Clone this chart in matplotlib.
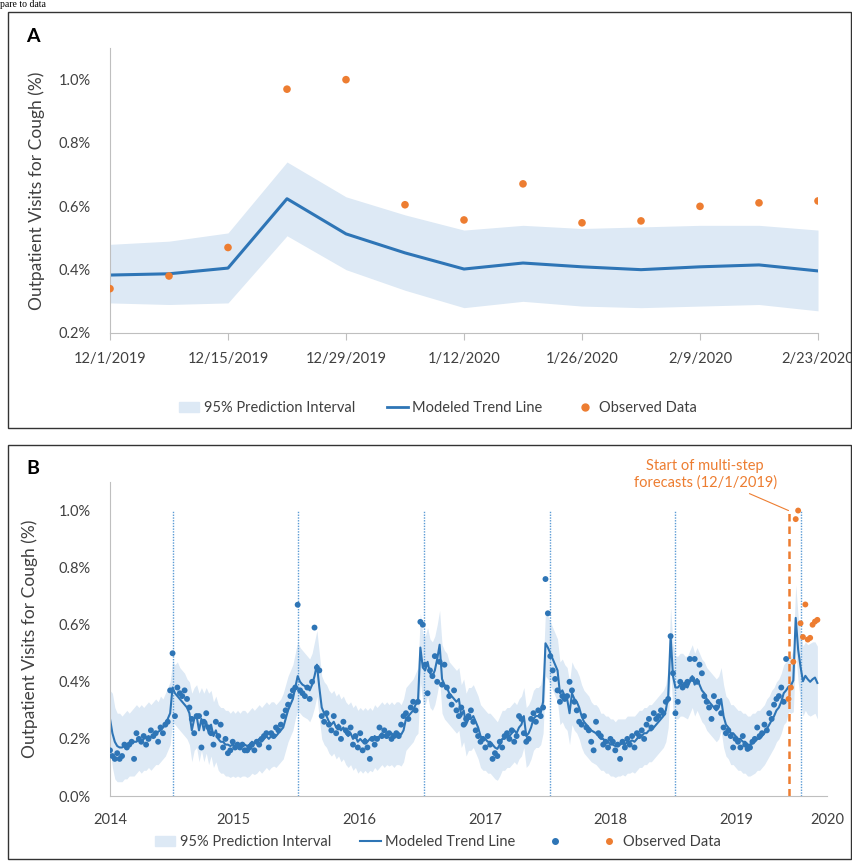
import numpy as np
import pandas as pd
import matplotlib
matplotlib.use("Agg")
import matplotlib.pyplot as plt
from matplotlib.patches import Patch, Rectangle
from matplotlib.lines import Line2D

plt.rcParams['font.family'] = ['Lato', 'DejaVu Sans']

BLUE = '#2E75B6'
ORANGE = '#ED7D31'
BAND = '#DDE9F5'
DOT_LINE = '#5B9BD5'
AXIS_GRAY = '#BFBFBF'
TEXT = '#404040'

# ---- Panel A: multi-step forecasts, weekly from 12/1/2019 ----
a_start = '2019-12-01'
a_observed = [0.34, 0.38, 0.47, 0.97, 1.00, 0.605, 0.557, 0.671, 0.548, 0.554, 0.60, 0.611, 0.617]
a_trend = [0.383, 0.387, 0.405, 0.624, 0.513, 0.453, 0.402, 0.421, 0.409, 0.40, 0.409, 0.415, 0.396]
a_upper = [0.48, 0.49, 0.516, 0.74, 0.63, 0.573, 0.525, 0.54, 0.53, 0.535, 0.54, 0.54, 0.525]
a_lower = [0.295, 0.29, 0.295, 0.507, 0.40, 0.335, 0.28, 0.30, 0.285, 0.28, 0.285, 0.29, 0.27]
a_tick_labels = ['12/1/2019', '12/15/2019', '12/29/2019', '1/12/2020', '1/26/2020', '2/9/2020', '2/23/2020']

# ---- Panel B: weekly history from 7/6/2014 (one-step model) ----
b_start = '2014-07-06'
b_trend_hist = [
    0.27, 0.22, 0.19, 0.175, 0.17, 0.17, 0.175, 0.18, 0.18, 0.185,
    0.19, 0.19, 0.20, 0.19, 0.20, 0.205, 0.21, 0.205, 0.215, 0.22,
    0.225, 0.23, 0.24, 0.25, 0.27, 0.29, 0.38, 0.36, 0.35, 0.34,
    0.33, 0.32, 0.31, 0.29, 0.23, 0.27, 0.28, 0.23, 0.27, 0.23,
    0.26, 0.22, 0.25, 0.21, 0.23, 0.20, 0.19, 0.19, 0.18, 0.18,
    0.175, 0.18, 0.175, 0.18, 0.175, 0.18, 0.18, 0.175, 0.18, 0.19,
    0.185, 0.19, 0.20, 0.19, 0.20, 0.21, 0.20, 0.21, 0.215, 0.21,
    0.22, 0.23, 0.24, 0.27, 0.30, 0.32, 0.34, 0.38, 0.42, 0.40,
    0.39, 0.385, 0.38, 0.37, 0.39, 0.42, 0.46, 0.38, 0.31, 0.29,
    0.28, 0.26, 0.25, 0.26, 0.24, 0.25, 0.23, 0.24, 0.22, 0.21,
    0.22, 0.20, 0.21, 0.19, 0.20, 0.19, 0.20, 0.19, 0.20, 0.195,
    0.21, 0.20, 0.21, 0.22, 0.21, 0.22, 0.215, 0.22, 0.21, 0.22,
    0.22, 0.215, 0.23, 0.27, 0.28, 0.29, 0.30, 0.32, 0.33, 0.52,
    0.45, 0.44, 0.47, 0.43, 0.42, 0.44, 0.48, 0.53, 0.41, 0.39,
    0.38, 0.36, 0.35, 0.34, 0.33, 0.34, 0.28, 0.30, 0.25, 0.27,
    0.27, 0.28, 0.26, 0.24, 0.21, 0.20, 0.20, 0.19, 0.19, 0.18,
    0.17, 0.165, 0.18, 0.20, 0.20, 0.21, 0.21, 0.22, 0.23, 0.22,
    0.24, 0.25, 0.28, 0.21, 0.22, 0.24, 0.27, 0.28, 0.28, 0.29,
    0.33, 0.535, 0.52, 0.50, 0.48, 0.46, 0.44, 0.36, 0.37, 0.35,
    0.34, 0.29, 0.36, 0.34, 0.33, 0.31, 0.28, 0.26, 0.25, 0.24,
    0.23, 0.225, 0.22, 0.21, 0.20, 0.20, 0.19, 0.19, 0.18, 0.18,
    0.175, 0.18, 0.18, 0.185, 0.18, 0.19, 0.19, 0.195, 0.19, 0.20,
    0.21, 0.21, 0.22, 0.22, 0.23, 0.23, 0.24, 0.25, 0.26, 0.27,
    0.28, 0.30, 0.35, 0.56, 0.42, 0.38, 0.38, 0.39, 0.39, 0.385,
    0.38, 0.40, 0.42, 0.39, 0.41, 0.39, 0.37, 0.36, 0.34, 0.33,
    0.32, 0.31, 0.30, 0.31, 0.34, 0.28, 0.25, 0.24, 0.22, 0.22,
    0.21, 0.20, 0.20, 0.19, 0.19, 0.18, 0.18, 0.185, 0.19, 0.20,
    0.20, 0.21, 0.22, 0.235, 0.25, 0.265, 0.28, 0.30, 0.31, 0.33,
    0.36, 0.37,
]
b_upper_hist = [
    0.37, 0.36, 0.31, 0.29, 0.29, 0.28, 0.29, 0.30, 0.29, 0.30,
    0.31, 0.32, 0.31, 0.32, 0.31, 0.32, 0.33, 0.32, 0.33, 0.34,
    0.33, 0.35, 0.34, 0.36, 0.38, 0.40, 0.47, 0.46, 0.47, 0.45,
    0.44, 0.43, 0.41, 0.40, 0.36, 0.38, 0.39, 0.36, 0.38, 0.36,
    0.38, 0.36, 0.37, 0.33, 0.35, 0.32, 0.31, 0.31, 0.30, 0.30,
    0.29, 0.30, 0.29, 0.30, 0.29, 0.30, 0.30, 0.29, 0.30, 0.31,
    0.30, 0.31, 0.32, 0.31, 0.32, 0.33, 0.32, 0.33, 0.33, 0.32,
    0.33, 0.34, 0.36, 0.39, 0.42, 0.44, 0.46, 0.50, 0.54, 0.52,
    0.51, 0.50, 0.49, 0.48, 0.50, 0.54, 0.58, 0.50, 0.42, 0.40,
    0.39, 0.37, 0.36, 0.37, 0.35, 0.36, 0.34, 0.35, 0.33, 0.32,
    0.33, 0.31, 0.32, 0.30, 0.31, 0.30, 0.31, 0.30, 0.31, 0.30,
    0.32, 0.31, 0.32, 0.33, 0.32, 0.33, 0.32, 0.33, 0.32, 0.33,
    0.33, 0.32, 0.34, 0.38, 0.39, 0.40, 0.41, 0.43, 0.45, 0.64,
    0.57, 0.56, 0.59, 0.55, 0.54, 0.56, 0.60, 0.65, 0.53, 0.51,
    0.50, 0.47, 0.46, 0.45, 0.44, 0.45, 0.39, 0.41, 0.36, 0.38,
    0.38, 0.39, 0.37, 0.35, 0.32, 0.31, 0.30, 0.29, 0.29, 0.28,
    0.27, 0.26, 0.28, 0.30, 0.30, 0.31, 0.31, 0.32, 0.33, 0.32,
    0.34, 0.35, 0.38, 0.31, 0.32, 0.34, 0.37, 0.38, 0.38, 0.39,
    0.44, 0.65, 0.63, 0.61, 0.59, 0.57, 0.55, 0.47, 0.48, 0.46,
    0.45, 0.40, 0.47, 0.45, 0.44, 0.42, 0.39, 0.37, 0.36, 0.35,
    0.33, 0.32, 0.32, 0.31, 0.29, 0.29, 0.28, 0.28, 0.27, 0.27,
    0.26, 0.27, 0.27, 0.27, 0.27, 0.28, 0.28, 0.28, 0.28, 0.29,
    0.30, 0.30, 0.31, 0.31, 0.32, 0.32, 0.33, 0.34, 0.35, 0.36,
    0.37, 0.39, 0.45, 0.66, 0.53, 0.49, 0.49, 0.50, 0.50, 0.49,
    0.49, 0.51, 0.53, 0.50, 0.52, 0.50, 0.48, 0.47, 0.45, 0.44,
    0.43, 0.42, 0.41, 0.42, 0.45, 0.39, 0.35, 0.34, 0.32, 0.32,
    0.31, 0.30, 0.30, 0.29, 0.29, 0.28, 0.28, 0.29, 0.29, 0.30,
    0.30, 0.31, 0.32, 0.34, 0.35, 0.37, 0.38, 0.40, 0.41, 0.43,
    0.46, 0.47,
]
b_lower_hist = [
    0.17, 0.10, 0.06, 0.05, 0.05, 0.05, 0.06, 0.06, 0.07, 0.07,
    0.07, 0.08, 0.09, 0.08, 0.09, 0.09, 0.10, 0.09, 0.10, 0.11,
    0.11, 0.12, 0.13, 0.14, 0.16, 0.18, 0.26, 0.25, 0.24, 0.23,
    0.22, 0.21, 0.20, 0.18, 0.12, 0.16, 0.17, 0.12, 0.16, 0.12,
    0.15, 0.11, 0.14, 0.10, 0.12, 0.09, 0.08, 0.08, 0.07, 0.07,
    0.065, 0.07, 0.065, 0.07, 0.065, 0.07, 0.07, 0.065, 0.07, 0.08,
    0.075, 0.08, 0.09, 0.08, 0.09, 0.10, 0.09, 0.10, 0.105, 0.10,
    0.11, 0.12, 0.13, 0.16, 0.19, 0.21, 0.23, 0.27, 0.30, 0.29,
    0.28, 0.275, 0.27, 0.26, 0.28, 0.31, 0.35, 0.27, 0.20, 0.18,
    0.17, 0.15, 0.14, 0.15, 0.13, 0.14, 0.12, 0.13, 0.11, 0.10,
    0.11, 0.09, 0.10, 0.08, 0.09, 0.08, 0.09, 0.08, 0.09, 0.085,
    0.10, 0.09, 0.10, 0.11, 0.10, 0.11, 0.105, 0.11, 0.10, 0.11,
    0.11, 0.105, 0.12, 0.16, 0.17, 0.18, 0.19, 0.21, 0.22, 0.40,
    0.33, 0.32, 0.35, 0.31, 0.30, 0.32, 0.36, 0.41, 0.29, 0.27,
    0.26, 0.25, 0.24, 0.23, 0.22, 0.23, 0.17, 0.19, 0.14, 0.16,
    0.16, 0.17, 0.15, 0.13, 0.10, 0.09, 0.09, 0.08, 0.08, 0.07,
    0.06, 0.055, 0.07, 0.09, 0.09, 0.10, 0.10, 0.11, 0.12, 0.11,
    0.13, 0.14, 0.17, 0.10, 0.11, 0.13, 0.16, 0.17, 0.17, 0.18,
    0.22, 0.42, 0.41, 0.39, 0.37, 0.35, 0.33, 0.25, 0.26, 0.24,
    0.23, 0.18, 0.25, 0.23, 0.22, 0.20, 0.17, 0.15, 0.14, 0.13,
    0.12, 0.115, 0.11, 0.10, 0.09, 0.09, 0.08, 0.08, 0.07, 0.07,
    0.065, 0.07, 0.07, 0.075, 0.07, 0.08, 0.08, 0.085, 0.08, 0.09,
    0.10, 0.10, 0.11, 0.11, 0.12, 0.12, 0.13, 0.14, 0.15, 0.16,
    0.17, 0.19, 0.24, 0.44, 0.30, 0.27, 0.27, 0.28, 0.28, 0.275,
    0.27, 0.29, 0.31, 0.28, 0.30, 0.28, 0.26, 0.25, 0.23, 0.22,
    0.21, 0.20, 0.19, 0.20, 0.23, 0.17, 0.14, 0.13, 0.11, 0.11,
    0.10, 0.09, 0.09, 0.08, 0.08, 0.07, 0.07, 0.075, 0.08, 0.09,
    0.09, 0.10, 0.11, 0.125, 0.14, 0.155, 0.17, 0.19, 0.20, 0.22,
    0.25, 0.26,
]
b_observed_hist = [
    0.16, 0.14, 0.13, 0.15, 0.13, 0.14, 0.18, 0.17, 0.18, 0.19,
    0.13, 0.22, 0.20, 0.19, 0.21, 0.18, 0.20, 0.23, 0.21, 0.22,
    0.19, 0.24, 0.22, 0.25, 0.26, 0.37, 0.50, 0.28, 0.38, 0.36,
    0.35, 0.37, 0.34, 0.31, 0.27, 0.22, 0.28, 0.28, 0.17, 0.26,
    0.29, 0.24, 0.22, 0.18, 0.26, 0.21, 0.25, 0.17, 0.20, 0.15,
    0.16, 0.19, 0.17, 0.18, 0.17, 0.18, 0.16, 0.16, 0.17, 0.18,
    0.16, 0.19, 0.18, 0.20, 0.21, 0.22, 0.17, 0.22, 0.21, 0.24,
    0.23, 0.25, 0.28, 0.30, 0.32, 0.35, 0.37, 0.38, 0.67, 0.37,
    0.36, 0.35, 0.38, 0.34, 0.40, 0.59, 0.45, 0.44, 0.28, 0.26,
    0.29, 0.25, 0.23, 0.28, 0.22, 0.24, 0.20, 0.26, 0.23, 0.22,
    0.24, 0.18, 0.21, 0.17, 0.22, 0.16, 0.19, 0.17, 0.13, 0.20,
    0.18, 0.20, 0.24, 0.21, 0.23, 0.21, 0.22, 0.20, 0.21, 0.22,
    0.21, 0.25, 0.28, 0.29, 0.27, 0.31, 0.33, 0.30, 0.33, 0.61,
    0.60, 0.46, 0.36, 0.44, 0.42, 0.49, 0.40, 0.47, 0.39, 0.46,
    0.38, 0.35, 0.32, 0.37, 0.30, 0.28, 0.31, 0.25, 0.27, 0.28,
    0.30, 0.26, 0.23, 0.21, 0.19, 0.20, 0.17, 0.21, 0.18, 0.13,
    0.15, 0.14, 0.19, 0.17, 0.21, 0.22, 0.20, 0.23, 0.19, 0.21,
    0.28, 0.27, 0.22, 0.19, 0.20, 0.27, 0.29, 0.26, 0.30, 0.28,
    0.31, 0.76, 0.64, 0.49, 0.44, 0.41, 0.37, 0.33, 0.35, 0.34,
    0.35, 0.40, 0.37, 0.33, 0.30, 0.26, 0.25, 0.28, 0.24, 0.23,
    0.19, 0.16, 0.26, 0.22, 0.21, 0.18, 0.19, 0.17, 0.20, 0.19,
    0.16, 0.18, 0.13, 0.19, 0.17, 0.20, 0.18, 0.21, 0.17, 0.22,
    0.21, 0.23, 0.20, 0.25, 0.27, 0.24, 0.29, 0.27, 0.28, 0.30,
    0.29, 0.33, 0.34, 0.56, 0.43, 0.29, 0.33, 0.40, 0.38, 0.39,
    0.40, 0.48, 0.41, 0.48, 0.40, 0.46, 0.43, 0.35, 0.33, 0.31,
    0.27, 0.35, 0.31, 0.33, 0.29, 0.24, 0.22, 0.23, 0.21, 0.17,
    0.20, 0.19, 0.17, 0.21, 0.18, 0.165, 0.17, 0.19, 0.20, 0.24,
    0.21, 0.22, 0.25, 0.23, 0.29, 0.27, 0.32, 0.34, 0.35, 0.38,
    0.33, 0.48,
]
season_marks = ['2015-01-05', '2016-01-05', '2017-01-05', '2018-01-05', '2019-01-06', '2020-01-05']
forecast_start = '2019-12-01'
b_end = '2020-03-22'
b_year_ticks = ['2014-07-06', '2015-07-01', '2016-07-01', '2017-07-01', '2018-07-01', '2019-07-01', b_end]
b_year_labels = ['2014', '2015', '2016', '2017', '2018', '2019', '2020']

a_dates = pd.date_range(a_start, periods=len(a_trend), freq='7D')
b_trend = b_trend_hist + a_trend
b_upper = b_upper_hist + a_upper
b_lower = b_lower_hist + a_lower
b_dates = pd.date_range(b_start, periods=len(b_trend), freq='7D')
hist_dates = b_dates[:len(b_observed_hist)]
fc_dates = b_dates[len(b_observed_hist):]

fig = plt.figure(figsize=(8.53, 8.61), dpi=100)

# panel frames
fig.add_artist(Rectangle((8 / 853, 1 - 428 / 861), 843 / 853, 416 / 861, transform=fig.transFigure,
                         fill=False, edgecolor='#333333', lw=1.0))
fig.add_artist(Rectangle((8 / 853, 1 - 859 / 861), 843 / 853, 414 / 861, transform=fig.transFigure,
                         fill=False, edgecolor='#333333', lw=1.0))
# leftover caption fragment at the very top of the page
fig.text(0.0, 1.0, 'pare to data', family='Liberation Serif', fontsize=7, va='top', ha='left')


def style_axes(ax):
    for s in ['top', 'right']:
        ax.spines[s].set_visible(False)
    ax.spines['left'].set_color(AXIS_GRAY)
    ax.spines['bottom'].set_color(AXIS_GRAY)
    ax.tick_params(axis='y', length=0, pad=14, labelsize=10.5, labelcolor=TEXT)
    ax.set_ylabel('Outpatient Visits for Cough (%)', fontsize=12.5, color=TEXT)


# ---- Panel A ----
axA = fig.add_axes([110 / 853, 1 - 333 / 861, 708 / 853, 285 / 861])
axA.fill_between(a_dates, a_lower, a_upper, color=BAND, lw=0)
axA.plot(a_dates, a_trend, color=BLUE, lw=2.2)
axA.scatter(a_dates, a_observed, s=30, color=ORANGE, zorder=3, edgecolors='none')
axA.set_xlim(a_dates[0], a_dates[-1])
axA.set_ylim(0.2, 1.1)
axA.set_yticks(np.arange(0.2, 1.01, 0.2))
axA.set_yticklabels([f'{v:.1f}%' for v in np.arange(0.2, 1.01, 0.2)])
axA.set_xticks(a_dates[::2])
axA.set_xticklabels(a_tick_labels)
style_axes(axA)
axA.tick_params(axis='x', length=5, color=AXIS_GRAY, pad=9, labelsize=10.5, labelcolor=TEXT)
axA.yaxis.set_label_coords(-0.092, 0.5)
fig.text(33 / 853, 1 - 37 / 861, 'A', fontsize=14, fontweight='bold', ha='center', va='center')

handlesA = [Patch(color=BAND), Line2D([], [], color=BLUE, lw=2),
            Line2D([], [], ls='none', marker='o', ms=5, color=ORANGE)]
fig.legend(handlesA, ['95% Prediction Interval', 'Modeled Trend Line', 'Observed Data'],
           loc='center', bbox_to_anchor=(438 / 853, 1 - 408 / 861), ncol=3, frameon=False,
           fontsize=10.5, handlelength=1.4, handletextpad=0.3, columnspacing=2.2, labelcolor=TEXT)

# ---- Panel B ----
axB = fig.add_axes([110 / 853, 1 - 796 / 861, 717 / 853, 314 / 861])
axB.fill_between(b_dates, b_lower, b_upper, color=BAND, lw=0)
axB.vlines(pd.to_datetime(season_marks), 0, 1.0, colors=DOT_LINE, linestyles=(0, (1, 1)), lw=1.0)
axB.vlines(pd.Timestamp(forecast_start), 0, 1.0, colors=ORANGE, linestyles=(0, (3, 2)), lw=1.8)
axB.plot(b_dates, b_trend, color=BLUE, lw=1.5)
axB.scatter(hist_dates, b_observed_hist, s=18, color=BLUE, zorder=3, edgecolors='none')
axB.scatter(fc_dates, a_observed, s=18, color=ORANGE, zorder=3, edgecolors='none')
axB.set_xlim(pd.Timestamp(b_start), pd.Timestamp(b_end))
axB.set_ylim(0, 1.1)
axB.set_yticks(np.arange(0, 1.01, 0.2))
axB.set_yticklabels([f'{v:.1f}%' for v in np.arange(0, 1.01, 0.2)])
axB.set_xticks(pd.to_datetime(b_year_ticks))
axB.set_xticklabels(b_year_labels)
style_axes(axB)
axB.tick_params(axis='x', length=0, pad=12, labelsize=10.5, labelcolor=TEXT)
axB.yaxis.set_label_coords(-0.1, 0.5)
fig.text(33 / 853, 1 - 468 / 861, 'B', fontsize=14, fontweight='bold', ha='center', va='center')

axB.annotate('Start of multi-step\nforecasts (12/1/2019)', xy=(pd.Timestamp(forecast_start), 1.0),
             xytext=(-60, 26), textcoords='offset points', ha='center', va='center',
             fontsize=10.5, color=ORANGE, annotation_clip=False,
             arrowprops=dict(arrowstyle='-', color=ORANGE, lw=0.8, shrinkA=2, shrinkB=0))

handlesB = [Patch(color=BAND), Line2D([], [], color=BLUE, lw=1.5),
            Line2D([], [], ls='none', marker='o', ms=4, color=BLUE),
            Line2D([], [], ls='none', marker='o', ms=4, color=ORANGE)]
fig.legend(handlesB, ['95% Prediction Interval', 'Modeled Trend Line', '', 'Observed Data'],
           loc='center', bbox_to_anchor=(438 / 853, 1 - 842 / 861), ncol=4, frameon=False,
           fontsize=10.5, handlelength=1.4, handletextpad=0.3, columnspacing=2.0, labelcolor=TEXT)

fig.savefig('out.png', dpi=100)
